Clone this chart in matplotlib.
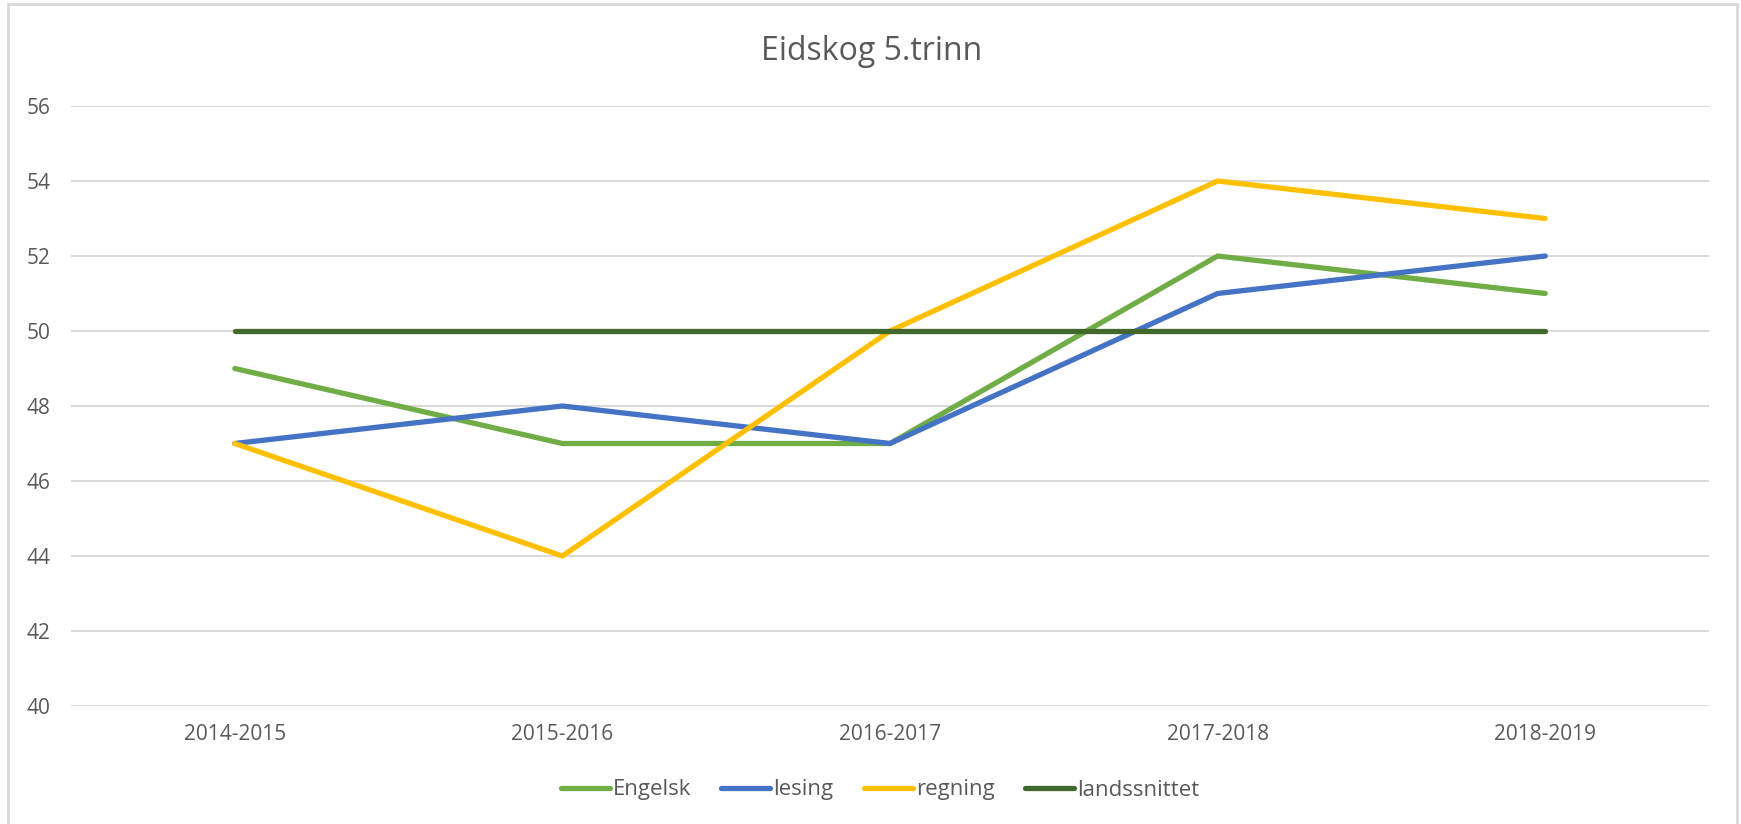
import matplotlib.pyplot as plt
from matplotlib.patches import Rectangle

plt.rcParams['font.family'] = ['Open Sans', 'DejaVu Sans']

years = ["2014-2015", "2015-2016", "2016-2017", "2017-2018", "2018-2019"]
engelsk = [49, 47, 47, 52, 51]
lesing = [47, 48, 47, 51, 52]
regning = [47, 44, 50, 54, 53]
landssnittet = [50, 50, 50, 50, 50]

W, H = 1741, 824
fig = plt.figure(figsize=(W / 100, H / 100), dpi=100)
ax = fig.add_axes([71 / W, 1 - 706 / H, (1709 - 71) / W, (706 - 106) / H])

x = range(len(years))
series = [
    ("Engelsk", engelsk, "#70AD47"),
    ("lesing", lesing, "#4472C4"),
    ("regning", regning, "#FFC000"),
    ("landssnittet", landssnittet, "#43682B"),
]
for name, vals, col in series:
    ax.plot(x, vals, color=col, lw=3.8, label=name,
            solid_capstyle="round", solid_joinstyle="round")

ax.set_xlim(-0.5, 4.5)
ax.set_ylim(40, 56)
ax.set_yticks(range(40, 57, 2))
ax.set_xticks(list(x))
ax.set_xticklabels(years)
ax.grid(axis="y", color="#D9D9D9", lw=1.4)
ax.set_axisbelow(True)
for s in ax.spines.values():
    s.set_visible(False)
ax.tick_params(length=0, labelsize=15, labelcolor="#595959")
ax.tick_params(axis="y", pad=15)
ax.tick_params(axis="x", pad=13)

fig.text(872 / W, 1 - 52 / H, "Eidskog 5.trinn", ha="center", va="center",
         fontsize=23, color="#595959")

fig.legend(loc="center", bbox_to_anchor=(880 / W, 1 - 790 / H), ncol=4,
           frameon=False, fontsize=16, handlelength=2.2, handletextpad=0.15,
           columnspacing=1.35, labelcolor="#595959")

fig.patches.append(Rectangle((8 / W, -0.05), (1737 - 8) / W, 1 - 4 / H + 0.05,
                             transform=fig.transFigure, fill=False,
                             edgecolor="#D9D9D9", lw=2))

fig.savefig("out.png", dpi=100)
